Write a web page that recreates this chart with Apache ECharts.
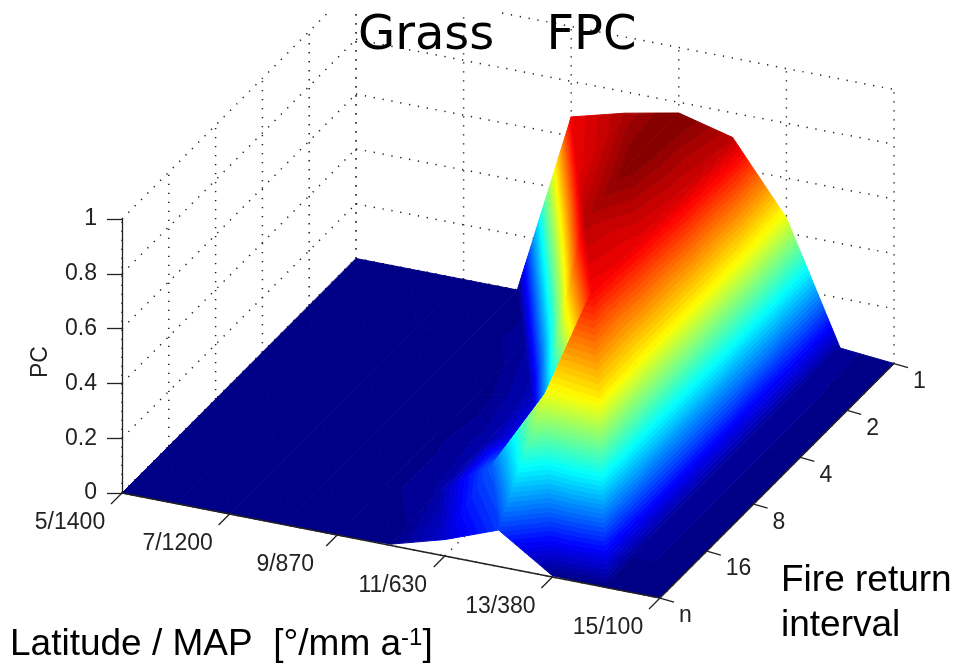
<!DOCTYPE html>
<html><head><meta charset="utf-8">
<style>html,body{margin:0;padding:0;background:#fff}#c{width:953px;height:664px}</style>
<script src="https://cdn.jsdelivr.net/npm/echarts@6/dist/echarts.min.js"></script>
</head><body><div id="c"></div>
<script>
const latLabels = ['5/1400','7/1200','9/870','11/630','13/380','15/100'];
const fireLabels = ['n','16','8','4','2','1'];
const pcTicks = [0,0.2,0.4,0.6,0.8,1];
// grass FPC per latitude step (5..15 deg), one list per fire return interval
const fireN  = [0,0,0,0,0,0.005,0.06,0.133,0.005,0,0];
const fire16 = [0,0,0,0,0.005,0.025,0.16,0.46,0.485,0.02,0];
const fire8  = [0,0,0,0,0.005,0.03,0.12,0.665,0.475,0.02,0];
const fire4  = [0,0,0,0,0,0.04,0.715,0.68,0.475,0.02,0];
const fire2  = [0,0,0,0,0.02,0.68,0.755,0.695,0.47,0.02,0];
const fire1  = [0,0,0,0,0.67,0.722,0.761,0.71,0.455,0.018,0];
const rows = [fireN,fire16,fire8,fire4,fire2,fire1];

const LAT_X=538, LAT_Y=105, FIRE_X=234, FIRE_Y=234.5, Z_PX=274;
const nu=rows[0].length-1, nv=rows.length-1;
function proj(u,v,z){return [LAT_X*u+FIRE_X*v, z+(FIRE_Y*v-LAT_Y*u)/Z_PX];}
const cmax=0.755, LEVELS=64;
function jet(t){
  const f=(a)=>Math.round(255*Math.max(0,Math.min(1,a)));
  return 'rgb('+f(1.5-Math.abs(4*t-3))+','+f(1.5-Math.abs(4*t-2))+','+f(1.5-Math.abs(4*t-1))+')';
}
function clipZ(poly,h,keepAbove){
  const out=[];
  for(let n=0;n<poly.length;n++){
    const a=poly[n],b=poly[(n+1)%poly.length];
    const ina=keepAbove?a[2]>=h:a[2]<=h, inb=keepAbove?b[2]>=h:b[2]<=h;
    if(ina)out.push(a);
    if(ina!==inb){const r=(h-a[2])/(b[2]-a[2]);out.push([a[0]+(b[0]-a[0])*r,a[1]+(b[1]-a[1])*r,h]);}
  }
  return out;
}
const cells=[];
for(let j=nv-1;j>=0;j--)for(let i=0;i<nu;i++)cells.push([i,j]);
function renderSurface(p,api){
  const i=api.value(0),j=api.value(1),children=[];
  const V=(a,b)=>[a/nu,b/nv,rows[b][a]];
  const tris=[[V(i+1,j+1),V(i,j+1),V(i+1,j)],[V(i,j),V(i+1,j),V(i,j+1)]];
  const d=cmax/LEVELS;
  tris.forEach(tri=>{
    const zs=tri.map(q=>q[2]);
    const k0=Math.min(LEVELS-1,Math.floor(Math.min(...zs)/d)), k1=Math.min(LEVELS-1,Math.floor(Math.max(...zs)/d));
    for(let k=k0;k<=k1;k++){
      let poly=tri;
      if(k>k0)poly=clipZ(poly,k*d,true);
      if(k<k1)poly=clipZ(poly,(k+1)*d,false);
      if(poly.length<3)continue;
      const col=jet((k+0.5)/LEVELS);
      children.push({type:'polygon',shape:{points:poly.map(q=>api.coord(proj(q[0],q[1],q[2])))},style:{fill:col,stroke:col,lineWidth:1}});
    }
  });
  return {type:'group',children};
}
const lines=[];
const TOPCLIP=13;
for(let k=0;k<=5;k++){
  const f=k/5;
  lines.push([f,0,0,f,1,0]);
  lines.push([0,f,0,1,f,0]);
  lines.push([f,1,0,f,1,1]);
  lines.push([0,f,0,0,f,1]);
}
pcTicks.forEach(z=>{
  lines.push([0,0,z,0,1,z]);
  lines.push([0,1,z,1,1,z]);
});
function renderLines(p,api){
  const l=lines[api.value(0)];
  let a=api.coord(proj(l[0],l[1],l[2])), b=api.coord(proj(l[3],l[4],l[5]));
  if(a[1]<TOPCLIP&&b[1]<TOPCLIP)return null;
  const clip=(m,n)=>{const r=(TOPCLIP-m[1])/(n[1]-m[1]);return [m[0]+(n[0]-m[0])*r,TOPCLIP];};
  if(a[1]<TOPCLIP)a=clip(a,b); else if(b[1]<TOPCLIP)b=clip(b,a);
  return {type:'line',shape:{x1:a[0],y1:a[1],x2:b[0],y2:b[1]},style:{stroke:'#222',lineWidth:1.5,lineDash:[1.3,7.7],fill:null}};
}
function renderAxes(p,api){
  const c=[], st={stroke:'#222',lineWidth:1.3,fill:null}, lab='#222';
  const seg=(a,b)=>c.push({type:'line',shape:{x1:a[0],y1:a[1],x2:b[0],y2:b[1]},style:st});
  seg(api.coord(proj(0,0,0)),api.coord(proj(1,0,0)));
  seg(api.coord(proj(1,0,0)),api.coord(proj(1,1,0)));
  latLabels.forEach((t,k)=>{
    const q=api.coord(proj(k/5,0,0));
    seg(q,[q[0]-11,q[1]+11]);
    c.push({type:'text',x:q[0]-52,y:q[1]+30,style:{text:t,fontFamily:'Liberation Sans',fontSize:23,fill:lab,align:'center',verticalAlign:'middle'}});
  });
  fireLabels.forEach((t,k)=>{
    const q=api.coord(proj(1,k/5,0));
    seg(q,[q[0]+14,q[1]+4]);
    c.push({type:'text',x:q[0]+19,y:q[1]+18,style:{text:t,fontFamily:'Liberation Sans',fontSize:23,fill:lab,align:'left',verticalAlign:'middle'}});
  });
  return {type:'group',children:c};
}
const chart=echarts.init(document.getElementById('c'),null,{renderer:'canvas'});
chart.setOption({
  animation:false,
  title:{text:'{t|Grass}{g|    }{t|FPC}',left:353,top:8,textStyle:{fontWeight:'normal',rich:{
    t:{fontFamily:'DejaVu Sans',fontSize:48,fontWeight:'normal',color:'#000'},
    g:{fontFamily:'DejaVu Sans',fontSize:41,fontWeight:'normal',color:'#000'}}}},
  grid:{left:122,top:219,width:772,height:274,containLabel:false},
  xAxis:{type:'value',min:0,max:772,show:false},
  yAxis:{type:'value',min:0,max:1,interval:0.2,
    axisLine:{show:true,lineStyle:{color:'#222',width:1.3}},
    axisTick:{show:true,length:15,lineStyle:{color:'#222',width:1.3}},
    splitLine:{show:false},
    axisLabel:{margin:25,fontFamily:'Liberation Sans',fontSize:23,color:'#222',formatter:v=>String(+v.toFixed(1))},
    name:'PC',nameLocation:'middle',nameGap:70,nameRotate:90,
    nameTextStyle:{fontFamily:'Liberation Sans',fontSize:23,color:'#222',padding:[0,12,0,0]}},
  series:[
    {type:'custom',z:1,silent:true,renderItem:renderLines,data:lines.map((l,i)=>[i,0])},
    {type:'custom',z:2,silent:true,renderItem:renderSurface,data:cells},
    {type:'custom',z:3,silent:true,renderItem:renderAxes,data:[[0,0]]}
  ],
  graphic:[
    {type:'text',left:10,top:626,z:10,style:{fontFamily:'Liberation Sans',fontSize:37,fill:'#000',
      text:'Latitude / MAP  [°/mm a{s|-1}]',
      rich:{s:{fontSize:24,verticalAlign:'top',fontFamily:'Liberation Sans',fill:'#000'}}}},
    {type:'text',left:781,top:558,z:10,style:{fontFamily:'Liberation Sans',fontSize:37,fill:'#000',lineHeight:45,text:'Fire return\ninterval'}}
  ]
});
</script></body></html>
